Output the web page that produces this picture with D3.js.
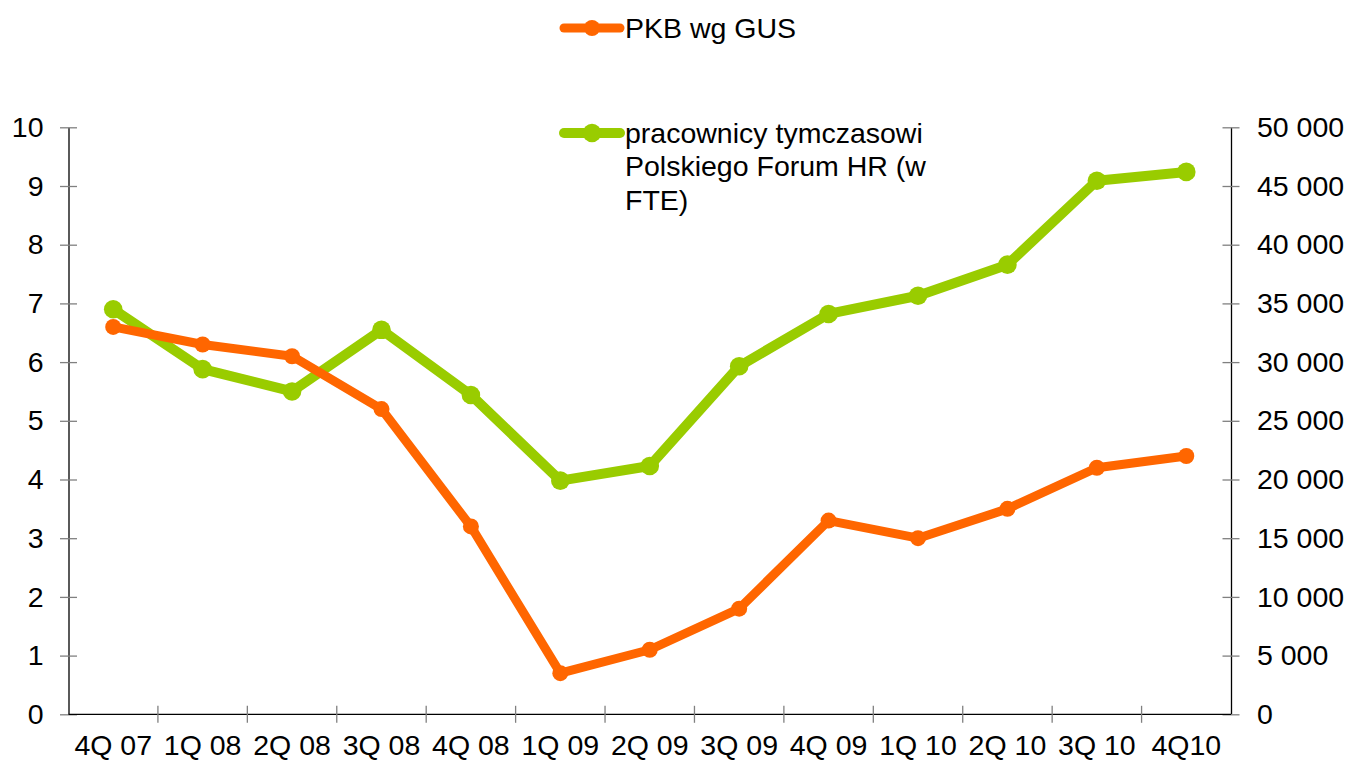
<!DOCTYPE html>
<html>
<head>
<meta charset="UTF-8">
<script src="https://d3js.org/d3.v7.min.js"></script>
<style>
  body { margin: 0; background: #fff; }
  text { font-family: "Liberation Sans", Arial, sans-serif; fill: #000; }
</style>
</head>
<body>
<div id="chart"></div>
<script>
const quarters = ['4Q 07', '1Q 08', '2Q 08', '3Q 08', '4Q 08', '1Q 09', '2Q 09', '3Q 09', '4Q 09', '1Q 10', '2Q 10', '3Q 10', '4Q10']
const pkb = [6.6, 6.3, 6.1, 5.2, 3.2, 0.7, 1.1, 1.8, 3.3, 3.0, 3.5, 4.2, 4.4]
const workers = [34500, 29400, 27500, 32750, 27200, 19900, 21150, 29650, 34100, 35650, 38300, 45450, 46200]
const leftTicks = [0, 1, 2, 3, 4, 5, 6, 7, 8, 9, 10]
const rightTicks = [0, 5000, 10000, 15000, 20000, 25000, 30000, 35000, 40000, 45000, 50000]
const seriesNames = ['PKB wg GUS', ['pracownicy tymczasowi', 'Polskiego Forum HR (w', 'FTE)']]

const colors = { pkb: '#ff6600', workers: '#99cc00' }
const W = 1350, H = 762
const m = { left: 68.5, right: 1231, top: 127.3, bottom: 714.3 }
const FS = 28.5

const svg = d3.select('#chart').append('svg').attr('width', W).attr('height', H)

const x = d3.scaleBand().domain(quarters).range([m.left, m.right]).padding(0)
const yL = d3.scaleLinear().domain([0, 10]).range([m.bottom, m.top])
const yR = d3.scaleLinear().domain([0, 50000]).range([m.bottom, m.top])

const fmt = v => d3.format(',')(v).replace(/,/g, ' ')

// left axis
const gl = svg.append('g').attr('transform', `translate(${m.left},0)`)
  .call(d3.axisLeft(yL).tickValues(leftTicks).tickSizeOuter(0).tickPadding(0))
gl.select('.domain').attr('stroke', '#000').attr('stroke-width', 1.3)
gl.selectAll('.tick line').attr('x1', -8.5).attr('x2', 8.5).attr('stroke', '#808080').attr('stroke-width', 1.3)
gl.selectAll('.tick text').attr('x', -25).attr('font-size', FS).attr('font-family', 'Liberation Sans, Arial, sans-serif')

// right axis
const gr = svg.append('g').attr('transform', `translate(${m.right},0)`)
  .call(d3.axisRight(yR).tickValues(rightTicks).tickFormat(fmt).tickSizeOuter(0))
gr.select('.domain').attr('stroke', '#000').attr('stroke-width', 1.3)
gr.selectAll('.tick line').attr('x1', -8.5).attr('x2', 8.5).attr('stroke', '#808080').attr('stroke-width', 1.3)
gr.selectAll('.tick text').attr('x', 26).attr('font-size', FS).attr('font-family', 'Liberation Sans, Arial, sans-serif')

// bottom axis: line, boundary ticks, centred labels
const gb = svg.append('g')
gb.append('line').attr('x1', m.left).attr('x2', m.right).attr('y1', m.bottom).attr('y2', m.bottom)
  .attr('stroke', '#000').attr('stroke-width', 1.3)
const bounds = quarters.map(q => x(q)).concat([x.range()[1]])
gb.selectAll('.xt').data(bounds.slice(1, -1)).enter().append('line')
  .attr('x1', d => d).attr('x2', d => d).attr('y1', m.bottom - 8.5).attr('y2', m.bottom + 8.5)
  .attr('stroke', '#808080').attr('stroke-width', 1.3)
gb.selectAll('.xl').data(quarters).enter().append('text')
  .attr('x', d => x(d) + x.bandwidth() / 2).attr('y', 755)
  .attr('text-anchor', 'middle').attr('font-size', FS).text(d => d)

// series
function drawSeries(values, scale, color, lw, r) {
  const pts = values.map((v, i) => [x(quarters[i]) + x.bandwidth() / 2, scale(v)])
  svg.append('path').attr('d', d3.line()(pts)).attr('fill', 'none')
    .attr('stroke', color).attr('stroke-width', lw).attr('stroke-linejoin', 'round')
  svg.append('g').selectAll('circle').data(pts).enter().append('circle')
    .attr('cx', d => d[0]).attr('cy', d => d[1]).attr('r', r).attr('fill', color)
}
drawSeries(workers, yR, colors.workers, 10, 9.3)
drawSeries(pkb, yL, colors.pkb, 9, 8)

// legend
function legendItem(y, color, lines, lw, r) {
  const g = svg.append('g')
  g.append('line').attr('x1', 564).attr('x2', 620).attr('y1', y).attr('y2', y)
    .attr('stroke', color).attr('stroke-width', lw).attr('stroke-linecap', 'round')
  g.append('circle').attr('cx', 592).attr('cy', y).attr('r', r).attr('fill', color)
  const lns = Array.isArray(lines) ? lines : [lines]
  g.selectAll('text').data(lns).enter().append('text')
    .attr('x', 625).attr('y', (d, i) => y + i * 33.5).attr('dy', '0.35em')
    .attr('font-size', FS).text(d => d)
}
legendItem(28, colors.pkb, seriesNames[0], 9, 8)
legendItem(133, colors.workers, seriesNames[1], 10, 9.3)
</script>
</body>
</html>
